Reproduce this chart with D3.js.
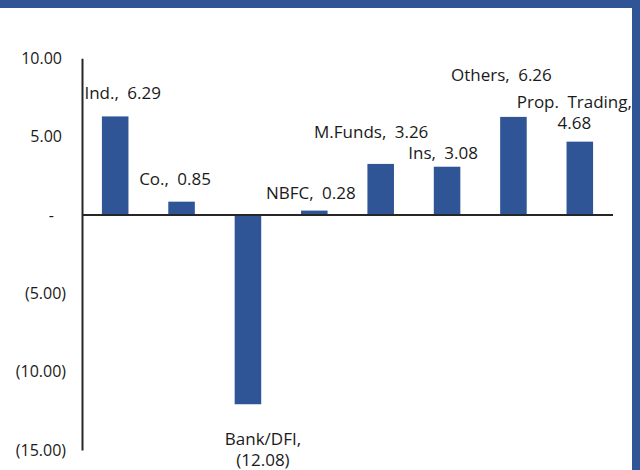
<!DOCTYPE html>
<html>
<head>
<meta charset="utf-8">
<script src="https://cdn.jsdelivr.net/npm/d3@7/dist/d3.min.js"></script>
<style>
  body { margin: 0; background: #fff; }
  svg { display: block; font-family: "Open Sans", "Noto Sans", sans-serif; }
</style>
</head>
<body>
<svg id="bar-chart" width="640" height="470"></svg>
<script>
// data
const categories = ['Ind.', 'Co.', 'Bank/DFI', 'NBFC', 'M.Funds', 'Ins', 'Others', 'Prop. Trading'];
const values = [6.29, 0.85, -12.08, 0.28, 3.26, 3.08, 6.26, 4.68];
const yTicks = [10, 5, 0, -5, -10, -15];

// label placement (pixels from bar centre / bar end), like the hand-moved labels in the original
const labelDx = [7.5, -6.5, 15, -3.5, -9.5, -4, -12, -5.5];
const labelDy = [-23.5, -22.5, 35, -17.5, -32, -14, -42, -40];
const labelWrap = [false, false, true, false, false, false, false, true];

const svg = d3.select('#bar-chart');
const width = +svg.attr('width');
const height = +svg.attr('height');
const barColor = '#2F5597';

// frame bands
svg.append('rect').attr('x', 0).attr('y', 0).attr('width', width).attr('height', 8).attr('fill', barColor);
svg.append('rect').attr('x', width - 8).attr('y', 0).attr('width', 8).attr('height', height).attr('fill', barColor);

const margin = { left: 82, right: 27, top: 58, bottom: 20 };

const x = d3.scaleBand()
    .domain(categories)
    .range([margin.left, width - margin.right])
    .paddingInner(0.6)
    .paddingOuter(0.3);

const y = d3.scaleLinear()
    .domain([-15, 10])
    .range([450, 58.3]);

const fmt = d3.format(',.2f');
function acct(v) {
    if (v === 0) return '-';
    return v < 0 ? '(' + fmt(-v) + ')' : fmt(v);
}

// y axis
const yAxis = d3.axisLeft(y)
    .tickValues(yTicks)
    .tickSize(0)
    .tickPadding(16)
    .tickFormat(acct);

const yAxisG = svg.append('g')
    .attr('transform', `translate(${margin.left},0)`)
    .call(yAxis);

yAxisG.select('.domain')
    .attr('stroke', '#262626')
    .attr('stroke-width', 2);

yAxisG.selectAll('.tick text')
    .attr('font-family', '"Open Sans", sans-serif')
    .attr('font-size', 16)
    .attr('fill', '#1a1a1a')
    .attr('dx', d => d > 0 ? -4 : (d === 0 ? -12 : 0));

// bars
svg.append('g').selectAll('rect')
    .data(values)
    .join('rect')
    .attr('x', (d, i) => x(categories[i]))
    .attr('width', x.bandwidth())
    .attr('y', d => y(Math.max(0, d)))
    .attr('height', d => Math.abs(y(d) - y(0)))
    .attr('fill', barColor);

// zero line
svg.append('line')
    .attr('x1', margin.left)
    .attr('x2', width - margin.right)
    .attr('y1', y(0))
    .attr('y2', y(0))
    .attr('stroke', '#262626')
    .attr('stroke-width', 2);

// data labels
const labels = svg.append('g')
    .attr('font-size', 17)
    .attr('word-spacing', 4)
    .attr('fill', '#1a1a1a')
    .attr('text-anchor', 'middle');

values.forEach((v, i) => {
    const cx = x(categories[i]) + x.bandwidth() / 2 + labelDx[i];
    const cy = y(v) + labelDy[i];
    const t = labels.append('text')
        .attr('x', cx)
        .attr('y', cy)
        .attr('dy', '0.35em');
    if (labelWrap[i]) {
        t.append('tspan').attr('x', cx).text(categories[i] + ',');
        t.append('tspan').attr('x', cx).attr('dy', 21).text(acct(v));
    } else {
        t.text(categories[i] + ', ' + acct(v));
    }
});
</script>
</body>
</html>
